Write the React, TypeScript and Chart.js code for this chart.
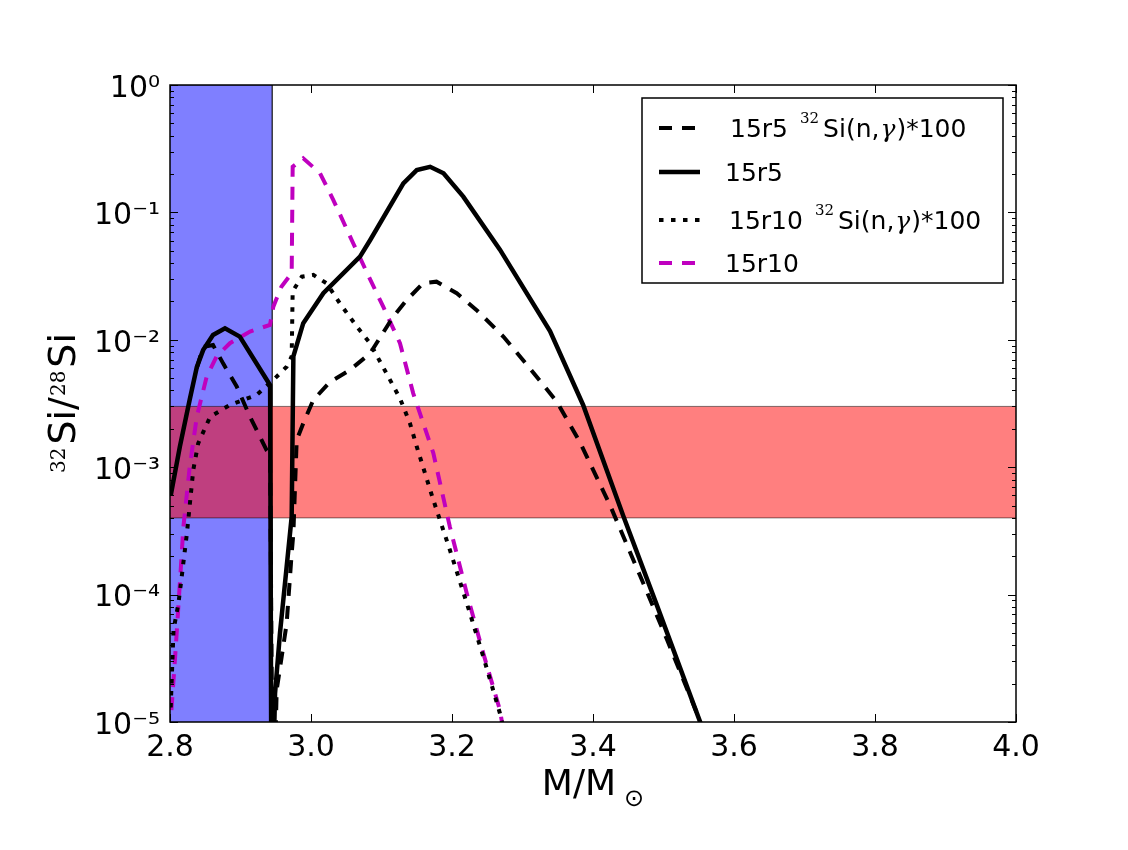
import React, { useEffect, useRef } from "react"
import { Chart, ChartConfiguration, Plugin, registerables } from "chart.js"

Chart.register(...registerables)

// 15r5, 32Si(n,g) rate * 100 (black dashed)
const r5CaptureMass = [2.838, 2.847, 2.861, 2.8755, 2.8946, 2.9135, 2.937, 2.942, 2.946, 2.9513, 2.9655, 2.9726, 2.975, 2.9797, 2.989, 3.0033, 3.027, 3.0553, 3.0837, 3.1167, 3.1357, 3.159, 3.178, 3.2067, 3.235, 3.2728, 3.306, 3.3485, 3.3816, 3.424, 3.4667, 3.5045, 3.547, 3.56]
const r5CaptureRatio = [6.0e-3, 8.8e-3, 9.1e-3, 6.5e-3, 4.3e-3, 2.49e-3, 1.36e-3, 1.25e-3, 1e-6, 1.78e-5, 5.95e-5, 2.11e-4, 3.03e-4, 1.63e-3, 2.21e-3, 3.37e-3, 4.67e-3, 5.8e-3, 7.8e-3, 1.52e-2, 2.05e-2, 2.78e-2, 2.86e-2, 2.32e-2, 1.71e-2, 1.06e-2, 6.4e-3, 3.28e-3, 1.57e-3, 5.05e-4, 1.41e-4, 4.5e-5, 1.19e-5, 7e-6]

// 15r5 (black solid)
const r5Mass = [2.801, 2.814, 2.828, 2.838, 2.847, 2.861, 2.878, 2.899, 2.942, 2.944, 2.949, 2.956, 2.9655, 2.9726, 2.975, 2.989, 3.0175, 3.0695, 3.084, 3.131, 3.15, 3.169, 3.188, 3.216, 3.268, 3.339, 3.386, 3.443, 3.4904, 3.552, 3.56]
const r5Ratio = [6.0e-4, 1.45e-3, 3.4e-3, 6.1e-3, 8.3e-3, 1.09e-2, 1.23e-2, 1.06e-2, 4.4e-3, 1e-6, 1.68e-5, 5.0e-5, 1.66e-4, 4.09e-4, 7.4e-3, 1.35e-2, 2.32e-2, 4.49e-2, 6.07e-2, 0.169, 0.215, 0.228, 0.203, 0.133, 0.051, 0.0117, 3.08e-3, 4.14e-4, 8.3e-5, 1.0e-5, 7e-6]

// 15r10, 32Si(n,g) rate * 100 (black dotted)
const r10CaptureMass = [2.801, 2.805, 2.812, 2.8166, 2.824, 2.833, 2.84, 2.857, 2.885, 2.923, 2.9466, 2.9655, 2.9726, 2.974, 2.987, 3.0033, 3.0223, 3.041, 3.065, 3.0837, 3.107, 3.1262, 3.1404, 3.15, 3.1735, 3.197, 3.221, 3.2444, 3.268, 3.28]
const r10CaptureRatio = [1.3e-5, 5.27e-5, 8.55e-5, 1.38e-4, 3.03e-4, 9.5e-4, 1.54e-3, 2.49e-3, 3.08e-3, 3.69e-3, 4.84e-3, 6.15e-3, 7.4e-3, 2.4e-2, 3.13e-2, 3.23e-2, 2.77e-2, 1.93e-2, 1.27e-2, 9.4e-3, 5.46e-3, 3.47e-3, 2.21e-3, 1.45e-3, 5.53e-4, 2.24e-4, 8.55e-5, 3.26e-5, 1.17e-5, 6e-6]

// 15r10 (magenta dashed)
const r10Mass = [2.802, 2.807, 2.814, 2.819, 2.828, 2.838, 2.852, 2.866, 2.885, 2.9135, 2.9418, 2.9466, 2.958, 2.9726, 2.974, 2.989, 3.0128, 3.0317, 3.06, 3.079, 3.1026, 3.1262, 3.145, 3.1735, 3.197, 3.221, 3.2444, 3.268, 3.28]
const r10Ratio = [1.24e-5, 3.07e-5, 1.23e-4, 3.4e-4, 1.01e-3, 2.49e-3, 5.13e-3, 7.4e-3, 9.4e-3, 1.16e-2, 1.31e-2, 1.82e-2, 2.61e-2, 3.33e-2, 0.228, 0.266, 0.203, 0.125, 0.057, 0.034, 0.0181, 9.4e-3, 3.8e-3, 1.29e-3, 3.4e-4, 1.02e-4, 3.46e-5, 1.24e-5, 5e-6]

// shaded regions
const bandMass = [2.8, 2.945] // blue, vertical
const bandRatio = [4e-4, 3e-3] // red, horizontal

const xTicks = [2.8, 3.0, 3.2, 3.4, 3.6, 3.8, 4.0]
const yExponents = [-5, -4, -3, -2, -1, 0]

const SANS = '"DejaVu Sans", sans-serif'
const SERIF = '"DejaVu Serif", serif'
const MAGENTA = "#bf00bf"
const DASH = [13, 10]
const DOT = [4.5, 7.5]

const legendRows = [
	{ name: "15r5", capture: true, color: "#000", width: 4, dash: DASH, x: 730, y: 128 },
	{ name: "15r5", capture: false, color: "#000", width: 4.5, dash: [], x: 725, y: 172 },
	{ name: "15r10", capture: true, color: "#000", width: 4, dash: DOT, x: 729, y: 220 },
	{ name: "15r10", capture: false, color: MAGENTA, width: 4, dash: DASH, x: 725, y: 263 },
]

const SUP: Record<string, string> = { "-": "\u207b", "0": "\u2070", "1": "\u00b9", "2": "\u00b2", "3": "\u00b3", "4": "\u2074", "5": "\u2075" }
const sup = (n: number) => String(n).split("").map((c) => SUP[c]).join("")
const toPoints = (xs: number[], ys: number[]) => xs.map((x, i) => ({ x, y: ys[i] }))

const framePlugin: Plugin = {
	id: "frame",
	afterDatasetsDraw(chart) {
		const { ctx, chartArea: a } = chart
		const x = chart.scales.x
		const y = chart.scales.y
		ctx.save()
		ctx.strokeStyle = "#000"
		ctx.lineWidth = 1
		const line = (x0: number, y0: number, x1: number, y1: number) => {
			ctx.beginPath()
			ctx.moveTo(x0, y0)
			ctx.lineTo(x1, y1)
			ctx.stroke()
		}
		// inward ticks on all sides
		for (const v of xTicks) {
			const px = Math.round(x.getPixelForValue(v)) + 0.5
			line(px, a.bottom, px, a.bottom - 8)
			line(px, a.top, px, a.top + 8)
		}
		for (const e of yExponents) {
			for (let m = 1; m <= 9; m++) {
				if (e === 0 && m > 1) break
				const py = Math.round(y.getPixelForValue(m * 10 ** e)) + 0.5
				const len = m === 1 ? 8 : 4
				line(a.left, py, a.left + len, py)
				line(a.right, py, a.right - len, py)
			}
		}
		ctx.lineWidth = 1.5
		ctx.strokeRect(a.left, a.top, a.right - a.left, a.bottom - a.top)
		ctx.restore()
	},
	afterDraw(chart) {
		const { ctx, chartArea: a } = chart
		ctx.save()
		ctx.fillStyle = "#000"
		ctx.textBaseline = "alphabetic"
		ctx.textAlign = "left"

		// x title: M/M(sun)
		ctx.font = `36px ${SANS}`
		const mw = ctx.measureText("M/M").width
		ctx.font = `24px ${SANS}`
		const sw = ctx.measureText("\u2299").width
		const x0 = (a.left + a.right) / 2 - (mw + 8 + sw) / 2
		ctx.font = `36px ${SANS}`
		ctx.fillText("M/M", x0, 795)
		ctx.font = `24px ${SANS}`
		ctx.fillText("\u2299", x0 + mw + 8, 806)

		// y title: 32Si/28Si
		const parts = [
			{ t: "32", f: `20px ${SERIF}`, dy: -10, gap: 3 },
			{ t: "Si", f: `38px ${SANS}`, dy: 0, gap: 0 },
			{ t: "/", f: `38px ${SANS}`, dy: 0, gap: 1 },
			{ t: "28", f: `20px ${SERIF}`, dy: -10, gap: 3 },
			{ t: "Si", f: `38px ${SANS}`, dy: 0, gap: 0 },
		]
		let total = 0
		for (const p of parts) {
			ctx.font = p.f
			total += ctx.measureText(p.t).width + p.gap
		}
		ctx.translate(75, 403)
		ctx.rotate(-Math.PI / 2)
		let cx = -total / 2
		for (const p of parts) {
			ctx.font = p.f
			ctx.fillText(p.t, cx, p.dy)
			cx += ctx.measureText(p.t).width + p.gap
		}
		ctx.setTransform(1, 0, 0, 1, 0, 0)
		ctx.restore()

		// legend
		ctx.save()
		ctx.fillStyle = "#fff"
		ctx.fillRect(642, 98, 361, 185)
		ctx.strokeStyle = "#000"
		ctx.lineWidth = 1.5
		ctx.strokeRect(642, 98, 361, 185)
		for (const r of legendRows) {
			ctx.strokeStyle = r.color
			ctx.lineWidth = r.width
			ctx.setLineDash(r.dash)
			ctx.beginPath()
			ctx.moveTo(659, r.y)
			ctx.lineTo(700, r.y)
			ctx.stroke()
			ctx.setLineDash([])
			ctx.fillStyle = "#000"
			const base = r.y + 9
			let tx = r.x
			ctx.font = `25px ${SANS}`
			ctx.fillText(r.name, tx, base)
			if (!r.capture) continue
			tx += ctx.measureText(r.name).width + 12
			ctx.font = `15px ${SERIF}`
			ctx.fillText("32", tx, base - 14)
			tx += ctx.measureText("32").width + 4
			ctx.font = `25px ${SANS}`
			ctx.fillText("Si(n,", tx, base)
			tx += ctx.measureText("Si(n,").width + 1
			ctx.font = `italic 25px ${SERIF}`
			ctx.fillText("\u03b3", tx, base)
			tx += ctx.measureText("\u03b3").width + 1
			ctx.font = `25px ${SANS}`
			ctx.fillText(")*100", tx, base)
		}
		ctx.restore()
	},
}

export default function App() {
	const chartRef = useRef<HTMLCanvasElement | null>(null)

	useEffect(() => {
		if (!chartRef.current) return
		const ctx = chartRef.current.getContext("2d")
		if (!ctx) return

		const curve = (data: { x: number; y: number }[], color: string, width: number, dash: number[]) => ({
			data,
			borderColor: color,
			borderWidth: width,
			borderDash: dash,
			pointRadius: 0,
			tension: 0,
			fill: false,
			order: 0,
		})

		const config: ChartConfiguration = {
			type: "line",
			data: {
				datasets: [
					curve(toPoints(r5CaptureMass, r5CaptureRatio), "#000", 4, DASH),
					curve(toPoints(r5Mass, r5Ratio), "#000", 4.5, []),
					curve(toPoints(r10CaptureMass, r10CaptureRatio), "#000", 4, DOT),
					curve(toPoints(r10Mass, r10Ratio), MAGENTA, 4, DASH),
					{
						data: [{ x: xTicks[0], y: bandRatio[1] }, { x: xTicks[xTicks.length - 1], y: bandRatio[1] }],
						borderColor: "rgba(0,0,0,0.5)",
						borderWidth: 1,
						pointRadius: 0,
						fill: false,
						order: 2,
					},
					{
						data: [{ x: xTicks[0], y: bandRatio[0] }, { x: xTicks[xTicks.length - 1], y: bandRatio[0] }],
						borderColor: "rgba(0,0,0,0.5)",
						backgroundColor: "rgba(255,0,0,0.5)",
						borderWidth: 1,
						pointRadius: 0,
						fill: "-1",
						order: 2,
					},
					{
						data: [{ x: bandMass[0], y: 1 }, { x: bandMass[1], y: 1 }, { x: bandMass[1], y: 1e-7 }],
						borderColor: "rgba(0,0,0,0.5)",
						backgroundColor: "rgba(0,0,255,0.5)",
						borderWidth: 1,
						pointRadius: 0,
						fill: "start",
						order: 3,
					},
				] as any,
			},
			options: {
				animation: false,
				responsive: true,
				maintainAspectRatio: false,
				events: [],
				layout: { padding: { top: 85, right: 112, left: 0, bottom: 0 } },
				plugins: {
					legend: { display: false },
					tooltip: { enabled: false },
				},
				scales: {
					x: {
						type: "linear",
						min: 2.8,
						max: 4.0,
						grid: { display: false, drawTicks: false },
						border: { display: false },
						afterBuildTicks: (s: any) => {
							s.ticks = xTicks.map((value) => ({ value }))
						},
						afterFit: (s: any) => {
							s.height = 128
						},
						ticks: {
							padding: 8,
							color: "#000",
							maxRotation: 0,
							font: { family: SANS, size: 30 },
							callback: (v: any) => Number(v).toFixed(1),
						},
					},
					y: {
						type: "logarithmic",
						min: 1e-5,
						max: 1,
						grid: { display: false, drawTicks: false },
						border: { display: false },
						afterBuildTicks: (s: any) => {
							s.ticks = yExponents.map((e) => ({ value: 10 ** e }))
						},
						afterFit: (s: any) => {
							s.width = 170
						},
						ticks: {
							padding: 10,
							color: "#000",
							labelOffset: 4,
							font: { family: SANS, size: 30 },
							callback: (v: any) => "10" + sup(Math.round(Math.log10(Number(v)))),
						},
					},
				},
			},
			plugins: [framePlugin],
		}

		const chart = new Chart(ctx, config)
		return () => chart.destroy()
	}, [])

	return (
		<div style={{ position: "absolute", left: 0, top: 0, width: 1128, height: 850, background: "#fff" }}>
			<canvas ref={chartRef}></canvas>
		</div>
	)
}
